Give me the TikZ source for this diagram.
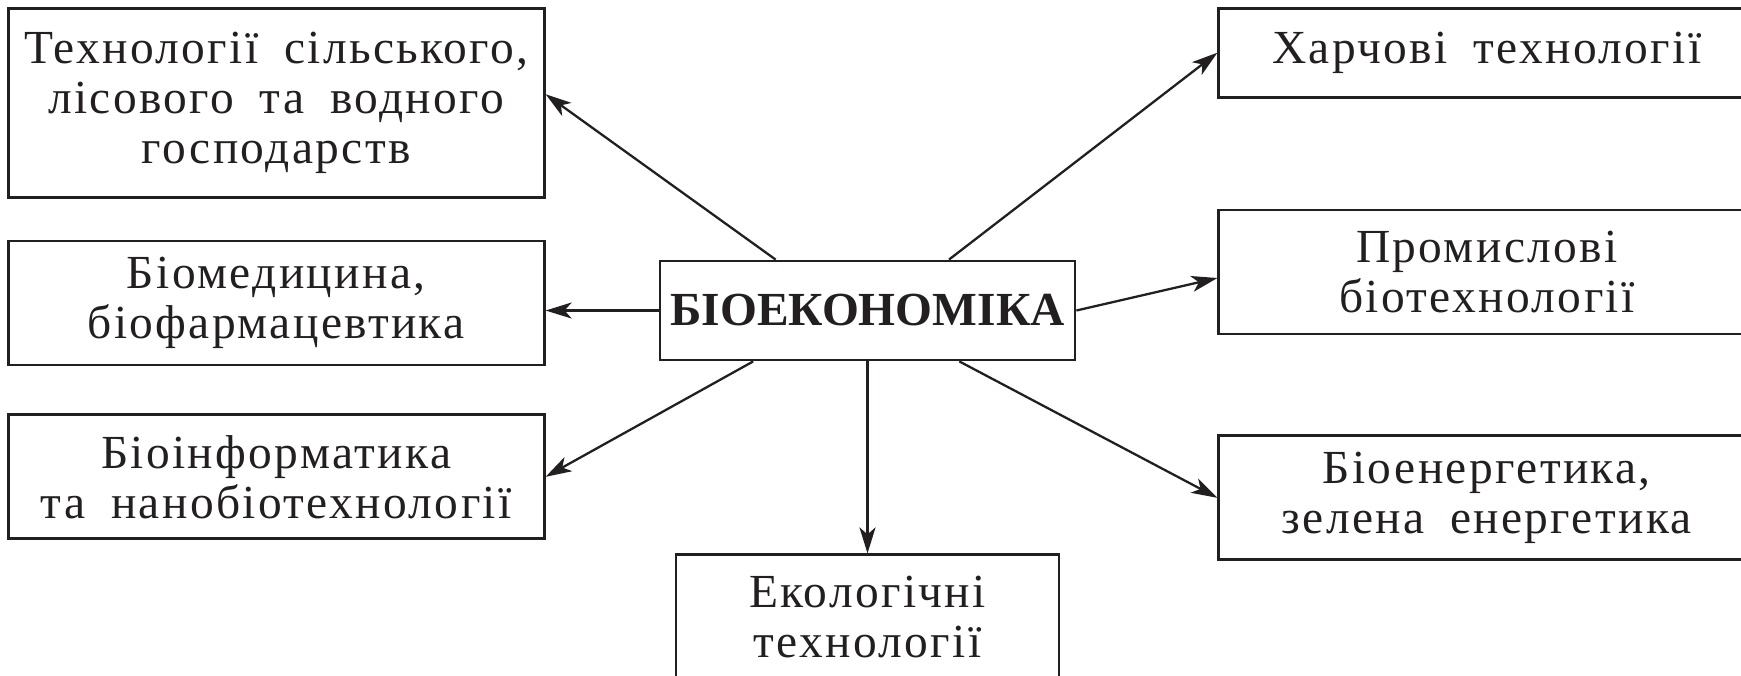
\documentclass[tikz,border=0pt]{standalone}
\usepackage{fontspec}
\setmainfont{Liberation Serif}
\newfontfamily\wideserif[LetterSpace=5,WordSpace=1.8]{Liberation Serif}
\usepackage{tikz}
\usetikzlibrary{positioning,arrows.meta}
\definecolor{ink}{RGB}{35,31,32}

\begin{document}
\begin{tikzpicture}[
    box/.style={draw=ink, line width=1.6pt, fill=none, inner sep=0pt,
      minimum width=10.72cm, minimum height=2.48cm, align=center,
      text=ink, font=\wideserif\fontsize{27}{28.5}\selectfont},
    arr/.style={draw=ink, line width=1.3pt,
      -{Stealth[length=0.52cm, width=0.32cm, inset=0.14cm]}}]
  \path[use as bounding box, clip] (0,0) rectangle (34.82,-13.5);
  \node[box, minimum width=8.3cm, minimum height=1.98cm,
        font=\fontsize{27}{28.5}\selectfont\bfseries] (cen) at (17.35,-6.21) {БІОЕКОНОМІКА};
  % left column
  \node[box, minimum height=3.78cm, above left=1.22cm and 2.26cm of cen] (agro)
        {Технології сільського,\\лісового та водного\\господарств};
  \node[box, left=2.26cm of cen, yshift=0.15cm] (med) {Біомедицина,\\біофармацевтика};
  \node[box, below left=1.04cm and 2.26cm of cen] (info) {Біоінформатика\\та нанобіотехнології};
  % bottom
  \node[box, minimum width=7.66cm, below=3.84cm of cen] (eco) {Екологічні\\технології};
  % right column
  \node[box, minimum height=1.78cm, above right=3.22cm and 2.82cm of cen] (food) {Харчові технології};
  \node[box, right=2.82cm of cen, yshift=0.77cm] (ind) {Промислові\\біотехнології};
  \node[box, below right=1.46cm and 2.82cm of cen] (energy) {Біоенергетика,\\зелена енергетика};
  % arrows
  \draw[arr] (cen.151) -- ([yshift=0.17cm]agro.east);
  \draw[arr] (cen.west) -- (cen.west -| med.east);
  \draw[arr] (cen.204) -- (info.east);
  \draw[arr] (cen.south) -- (eco.north);
  \draw[arr] (cen.32) -- (food.west);
  \draw[arr] (cen.east) -- ([yshift=-0.12cm]ind.west);
  \draw[arr] (cen.331) -- (energy.west);
\end{tikzpicture}
\end{document}
